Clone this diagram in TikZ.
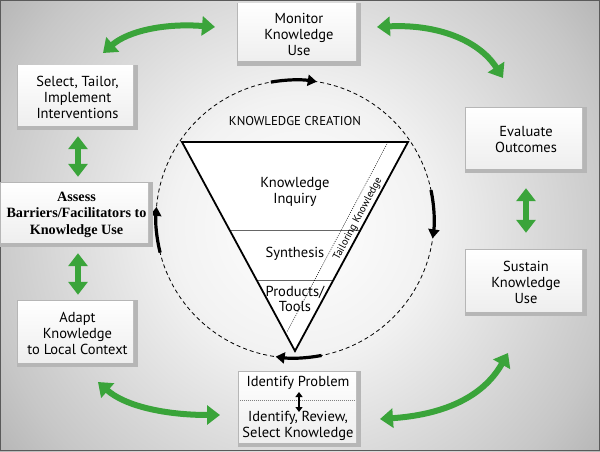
\documentclass[tikz,border=0pt]{standalone}
\usepackage{fontspec}
\setmainfont{PT Sans}
\newfontfamily\assessfont{Liberation Serif}
\usetikzlibrary{arrows.meta,calc}
\definecolor{ggreen}{RGB}{58,164,58}
\definecolor{bevel}{RGB}{182,182,182}
\definecolor{framec}{RGB}{90,90,90}
\pgfdeclareradialshading{bgsh}{\pgfpoint{0bp}{0bp}}{rgb(0bp)=(1,1,1); rgb(8bp)=(0.95,0.95,0.95); rgb(20bp)=(0.78,0.78,0.78); rgb(32bp)=(0.56,0.56,0.56); rgb(50bp)=(0.5,0.5,0.5)}
\tikzset{
  bbox/.style={rectangle, fill=bevel, inner sep=0pt, align=center,
    font=\fontsize{14.5}{16}\selectfont,
    path picture={
      \shade[top color=white, bottom color=white!93!black]
        ([shift={(1pt,-1pt)}]path picture bounding box.north west) rectangle
        ([shift={(-5pt,5pt)}]path picture bounding box.south east);
    }},
  garrow/.style={draw=ggreen, line width=6pt,
    {Triangle[length=13pt,width=19pt]}-{Triangle[length=13pt,width=19pt]}},
  barrow/.style={draw=black, line width=3.2pt, -{Triangle[length=9pt,width=11pt]}},
  tritext/.style={align=center, font=\fontsize{14.5}{15.5}\selectfont},
}
\begin{document}
\begin{tikzpicture}[x=1pt,y=1pt]
\useasboundingbox (0,0) rectangle (600,451);
\begin{scope}
  \clip (0,0) rectangle (600,451);
  \shade[shading=bgsh] (300,225) circle (400);
\end{scope}
\draw[framec, line width=1pt] (0.5,0.5) rectangle (599.5,450.5);

% central cycle
\coordinate (ctr) at (295,232);
\draw[dash pattern=on 4pt off 3pt, line width=0.8pt] (ctr) circle (139);
\draw[barrow] ([shift={(100:139)}]ctr) arc[start angle=100, end angle=81, radius=139];
\draw[barrow] ([shift={(12:139)}]ctr) arc[start angle=12, end angle=-8, radius=139];
\draw[barrow] ([shift={(281:139)}]ctr) arc[start angle=281, end angle=262, radius=139];
\draw[barrow] ([shift={(194:139)}]ctr) arc[start angle=194, end angle=175, radius=139];

% knowledge funnel
\coordinate (tl) at (182,309);
\coordinate (tr) at (408,309);
\coordinate (ap) at (295,100);
\fill[white] (tl) -- (tr) -- (ap) -- cycle;
\draw[gray!80!black, line width=0.8pt] ($(tl)!0.421!(ap)$) -- ($(tr)!0.421!(ap)$);
\draw[gray!80!black, line width=0.8pt] ($(tl)!0.660!(ap)$) -- ($(tr)!0.660!(ap)$);
\coordinate (dt) at (388,309);
\coordinate (db) at (287,119);
\draw[dash pattern=on 1pt off 1.2pt, line width=0.5pt] (dt) -- (db);
\draw[line width=1.8pt, line join=miter] (tl) -- (tr) -- (ap) -- cycle;

\node[font=\fontsize{12.8}{14}\selectfont] (kc) at (295,330) {KNOWLEDGE CREATION};
\node[tritext] (inq) at (295,259) {Knowledge\\Inquiry};
\node[tritext] (syn) at (295,197) {Synthesis};
\node[tritext] (prod) at (295,152) {Products/\\Tools};
\node[rotate=62, font=\fontsize{10.5}{12}\selectfont, inner sep=0pt] (tail) at (358,232) {Tailoring Knowledge};

% action cycle boxes
\node[bbox, minimum width=124pt, minimum height=63pt] (monitor) at (299,416.5) {Monitor\\Knowledge\\Use};
\node[bbox, minimum width=121pt, minimum height=65pt] (select) at (77.5,353.5) {Select, Tailor,\\Implement\\Interventions};
\node[bbox, minimum width=153pt, minimum height=65pt, font=\assessfont\bfseries\fontsize{14.2}{16.5}\selectfont] (assess) at (76.5,236.5) {Assess\\Barriers/Facilitators to\\Knowledge Use};
\node[bbox, minimum width=121pt, minimum height=67pt] (adapt) at (77.5,117.5) {Adapt\\Knowledge\\to Local Context};
\node[bbox, minimum width=123pt, minimum height=76pt] (ident) at (299.5,42) {};
\node[bbox, minimum width=122pt, minimum height=66pt] (evaluate) at (526,311) {Evaluate\\Outcomes};
\node[bbox, minimum width=122pt, minimum height=67pt] (sustain) at (526,168.5) {Sustain\\Knowledge\\Use};

% identify box contents
\node[font=\fontsize{14.5}{16}\selectfont] (prob) at (298,68) {Identify Problem};
\node[align=center, font=\fontsize{14.5}{15.5}\selectfont] (rev) at (298,25) {Identify, Review,\\Select Knowledge};
\draw[gray, dash pattern=on 1pt off 1pt, line width=0.6pt] ([xshift=2pt]ident.west |- 0,51) coordinate (dl) -- ([xshift=-6pt]ident.east |- 0,51) coordinate (dr);
\draw[line width=2pt, {Triangle[length=5pt,width=7pt]}-{Triangle[length=5pt,width=7pt]}] (299,59) coordinate (sa) -- (299,39) coordinate (sb);

% green connectors
\coordinate (g1a) at (103,398);
\coordinate (g1b) at (215,424);
\coordinate (g2a) at (377,424);
\coordinate (g2b) at (503,373);
\coordinate (g6a) at (98,69);
\coordinate (g6b) at (220,36);
\coordinate (g7a) at (380,32);
\coordinate (g7b) at (508,98);
\draw[garrow] (g1a) .. controls (128,420) and (165,428) .. (g1b);
\draw[garrow] (g2a) .. controls (435,427) and (478,412) .. (g2b);
\draw[garrow] ([shift={(0.5pt,-6pt)}]select.south) -- ([shift={(1.5pt,5pt)}]assess.north);
\draw[garrow] ([shift={(1.5pt,-6pt)}]assess.south) -- ([shift={(0.5pt,5pt)}]adapt.north);
\draw[garrow] ([yshift=-15pt]evaluate.south) -- ([yshift=16pt]sustain.north);
\draw[garrow] (g6a) .. controls (125,45) and (165,36) .. (g6b);
\draw[garrow] (g7a) .. controls (440,36) and (482,52) .. (g7b);
\end{tikzpicture}
\end{document}
